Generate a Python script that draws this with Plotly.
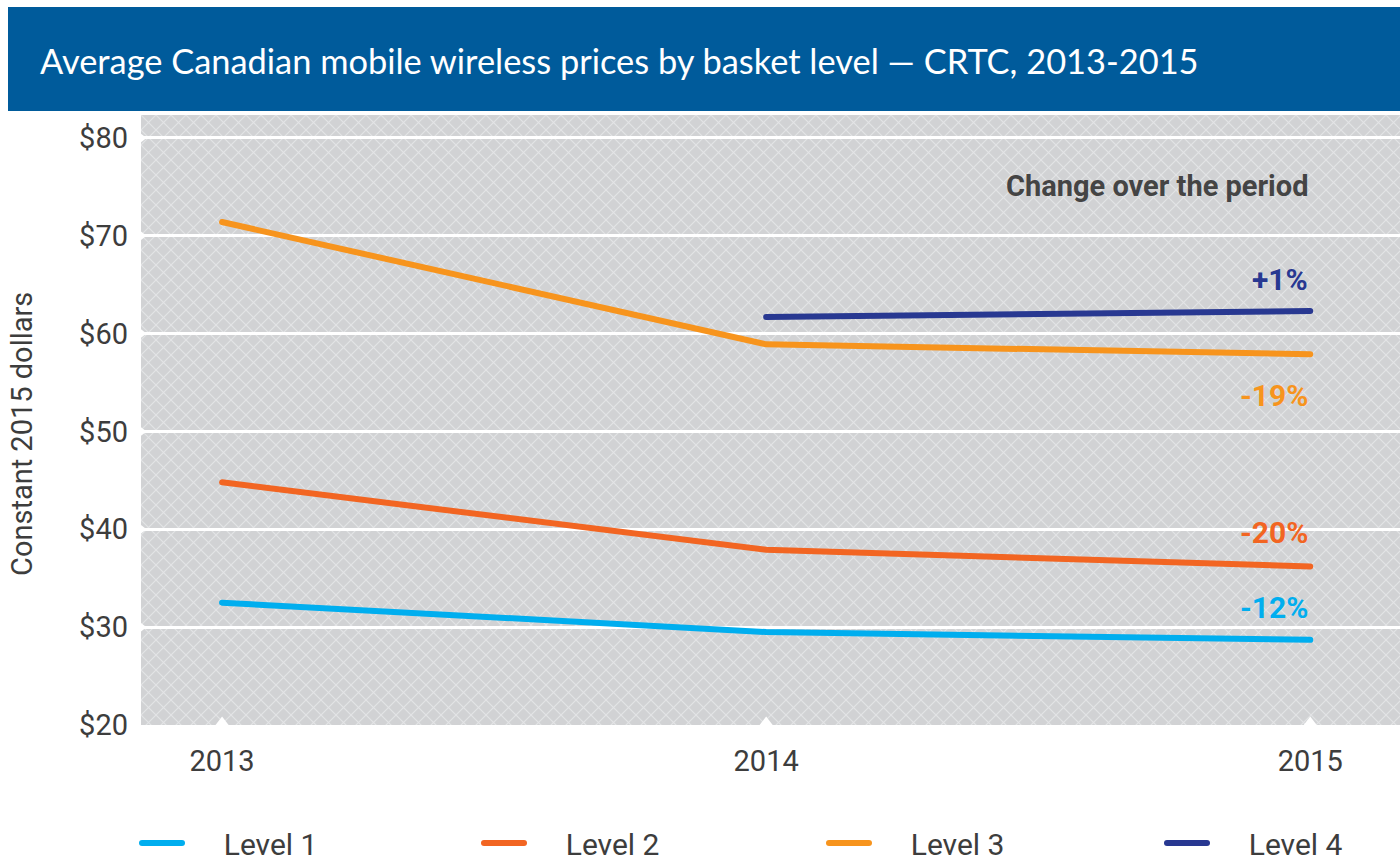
import base64
import plotly.graph_objects as go

# ---- data ----
years = [2013, 2014, 2015]
level1 = [32.5, 29.5, 28.7]
level2 = [44.8, 37.9, 36.2]
level3 = [71.4, 58.9, 57.9]
level4 = [None, 61.7, 62.3]
series_names = ["Level 1", "Level 2", "Level 3", "Level 4"]
change_labels = ["-12%", "-20%", "-19%", "+1%"]
y_ticks = [20, 30, 40, 50, 60, 70, 80]
y_tick_text = ["$20", "$30", "$40", "$50", "$60", "$70", "$80"]
x_tick_text = ["2013", "2014", "2015"]

colors = ["#00aeef", "#f26522", "#f7941d", "#283891"]
label_shift = [32, 34, -41, 32]
legend_line_px = [143, 485, 830, 1168]

W, H = 1400, 863
ML, MR, MT, MB = 141, 0, 115, 138
PW, PH = W - ML - MR, H - MT - MB

FONT = "Roboto"
TXT = "#3d3d3d"


def px_x(p):
    return (p - ML) / PW


def px_y(p):
    return (H - MB - p) / PH


fig = go.Figure()

all_series = [level1, level2, level3, level4]
legend_ids = ["legend", "legend2", "legend3", "legend4"]
for name, vals, col, lid in zip(series_names, all_series, colors, legend_ids):
    fig.add_trace(go.Scatter(
        x=years, y=vals, mode="lines", name="\u2003\u2009" + name, legend=lid,
        line=dict(color=col, width=6), connectgaps=False,
        hoverinfo="skip",
    ))

x0 = 2012.851
x1 = 2015.165

# small white notches at the bottom (x ticks) and left (gridlines)
fig.add_trace(go.Scatter(
    x=years, y=[y_ticks[0]] * len(years), mode="markers",
    marker=dict(symbol="triangle-up", size=17, color="white", line=dict(width=0)),
    showlegend=False, hoverinfo="skip", cliponaxis=True,
))
fig.add_trace(go.Scatter(
    x=[x0] * (len(y_ticks) - 1), y=y_ticks[1:], mode="markers",
    marker=dict(symbol="triangle-right", size=11, color="white", line=dict(width=0)),
    showlegend=False, hoverinfo="skip", cliponaxis=True,
))

# crosshatch background pattern as svg image
svg = (
    f'<svg xmlns="http://www.w3.org/2000/svg" width="{PW}" height="{PH}" '
    f'viewBox="0 0 {PW} {PH}" preserveAspectRatio="none">'
    '<defs><pattern id="p" patternUnits="userSpaceOnUse" width="15" height="15">'
    '<path d="M-1,-1 L16,16 M16,-1 L-1,16" stroke="#e3e4e6" stroke-width="1.1" fill="none"/>'
    '</pattern></defs>'
    f'<rect x="0" y="0" width="{PW}" height="{PH}" fill="url(#p)"/></svg>'
)
src = "data:image/svg+xml;base64," + base64.b64encode(svg.encode()).decode()

legend_common = dict(
    orientation="h", xanchor="left", yanchor="middle", y=px_y(843),
    font=dict(size=30, color=TXT, family=FONT),
    bgcolor="rgba(0,0,0,0)", itemclick=False, itemdoubleclick=False,
    borderwidth=0, itemwidth=40,
)
legends = {}
for lid, lx in zip(legend_ids, legend_line_px):
    legends[lid] = dict(legend_common, x=px_x(lx - 6))

fig.update_layout(
    width=W, height=H,
    margin=dict(l=ML, r=MR, t=MT, b=MB, pad=0, autoexpand=False),
    paper_bgcolor="white",
    plot_bgcolor="#d1d2d4",
    font=dict(family=FONT, color=TXT),
    showlegend=True,
    images=[dict(
        source=src, xref="paper", yref="paper", x=0, y=1,
        sizex=1, sizey=1, sizing="stretch", xanchor="left", yanchor="top",
        layer="below",
    )],
    xaxis=dict(
        range=[x0, x1], tickvals=years, ticktext=x_tick_text,
        showgrid=False, zeroline=False, showline=False, ticks="",
        tickfont=dict(size=29, color=TXT, family=FONT),
        ticklabelstandoff=16, fixedrange=True,
    ),
    yaxis=dict(
        range=[20, 82.34], tickvals=y_ticks, ticktext=y_tick_text,
        showgrid=True, gridcolor="white", gridwidth=3,
        zeroline=False, showline=False, ticks="",
        tickfont=dict(size=29, color=TXT, family=FONT),
        ticklabelstandoff=12, fixedrange=True,
    ),
    shapes=[dict(
        type="rect", xref="paper", yref="paper",
        x0=px_x(8), x1=1.0, y0=px_y(111), y1=px_y(7),
        fillcolor="#005b9b", line=dict(width=0), layer="above",
    )],
    **legends,
)

annotations = [
    dict(text="Average Canadian mobile wireless prices by basket level — CRTC, 2013-2015",
         xref="paper", yref="paper", x=px_x(38), y=px_y(60),
         xanchor="left", yanchor="middle", showarrow=False,
         font=dict(family="Lato", size=34.4, color="white")),
    dict(text="Constant 2015 dollars", xref="paper", yref="paper",
         x=px_x(22), y=px_y(434), textangle=-90,
         xanchor="center", yanchor="middle", showarrow=False,
         font=dict(family=FONT, size=29, color=TXT)),
    dict(text="<b>Change over the period</b>", xref="x", yref="paper",
         x=years[-1], y=px_y(186), xanchor="right", yanchor="middle",
         showarrow=False, font=dict(family=FONT, size=29, color="#444444")),
]
for vals, lab, col, sh in zip(all_series, change_labels, colors, label_shift):
    annotations.append(dict(
        text=f"<b>{lab}</b>", x=years[-1], y=vals[-1], xref="x", yref="y",
        xanchor="right", yanchor="middle", yshift=sh, showarrow=False,
        font=dict(family=FONT, size=30, color=col),
    ))
fig.update_layout(annotations=annotations)

post = (
    "document.body.style.margin='0';"
    "document.body.style.overflow='hidden';"
    "var s=document.createElement('style');"
    "s.textContent='.js-line{stroke-linecap:round;}';"
    "document.head.appendChild(s);"
)

fig.write_html("out.html", config={"displayModeBar": False}, post_script=post)
